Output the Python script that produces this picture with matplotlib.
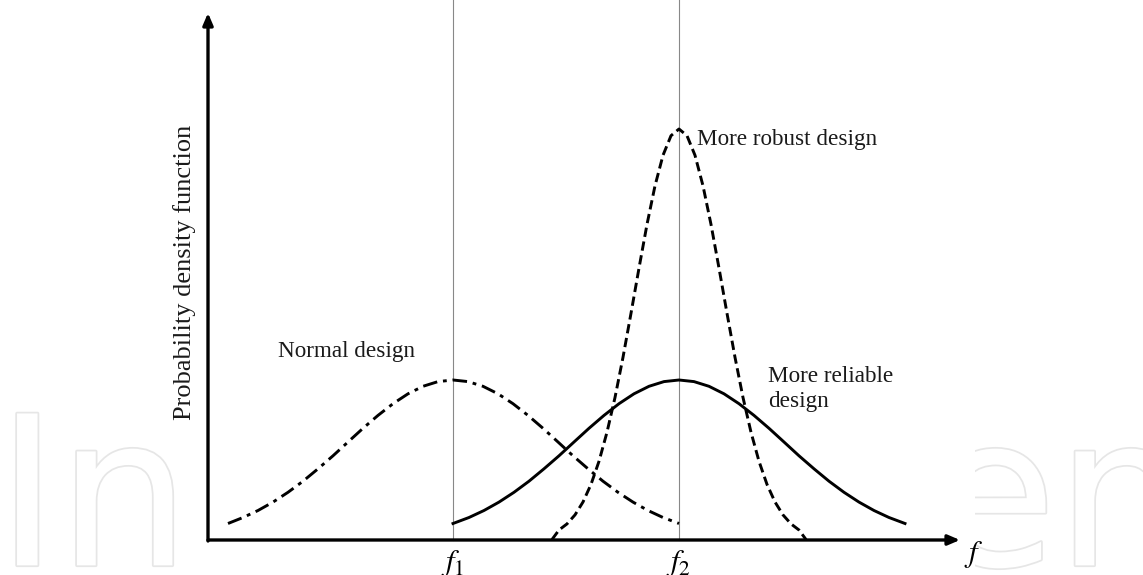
import matplotlib.pyplot as plt
import matplotlib.patheffects as pe

plt.rcParams['font.family'] = ['Liberation Serif', 'DejaVu Serif']
plt.rcParams['mathtext.fontset'] = 'stix'

# positions of the two reference frequencies on the f axis
f1 = 245
f2 = 471

# curves (x along f, y = pdf height)
normal_x = [20, 35, 50, 65, 80, 95, 110, 125, 140, 155, 170, 185, 200, 215, 230, 245,
            260, 275, 290, 305, 320, 335, 350, 365, 380, 395, 410, 425, 440, 455, 471]
normal_y = [16.5, 22.5, 29.5, 37.9, 47.7, 58.8, 71.2, 84.2, 98.0, 111.7, 124.6, 136.3, 146.2, 153.7, 158.4, 160,
            158.4, 153.7, 146.2, 136.3, 124.6, 111.7, 98.0, 84.2, 71.2, 58.8, 47.7, 37.9, 29.5, 22.5, 16.5]

reliable_x = [245, 261, 276, 291, 306, 321, 336, 351, 366, 381, 396, 411, 426, 441, 456, 471,
              486, 501, 516, 531, 546, 561, 576, 591, 606, 621, 636, 651, 666, 681, 697]
reliable_y = [16.5, 22.5, 29.5, 37.9, 47.7, 58.8, 71.2, 84.2, 98.0, 111.7, 124.6, 136.3, 146.2, 153.7, 158.4, 160,
              158.4, 153.7, 146.2, 136.3, 124.6, 111.7, 98.0, 84.2, 71.2, 58.8, 47.7, 37.9, 29.5, 22.5, 16.5]

robust_x = [344, 351, 359, 367, 375, 383, 391, 399, 407, 415, 423, 431, 439, 447, 455, 463, 471,
            479, 487, 495, 503, 511, 519, 527, 535, 543, 551, 559, 567, 575, 583, 591, 598]
robust_y = [0.5, 10.0, 16.1, 25.1, 38.0, 55.6, 78.7, 107.8, 142.5, 182.7, 226.7, 271.9, 315.6, 354.2, 384.7, 404.3, 411,
            404.3, 384.7, 354.2, 315.6, 271.9, 226.7, 182.7, 142.5, 107.8, 78.7, 55.6, 38.0, 25.1, 16.1, 10.0, 0.5]

fig = plt.figure(figsize=(11.43, 5.75), dpi=100)

# faint watermark in the margins
wm = dict(fontsize=150, family='DejaVu Sans', color='white', va='bottom', zorder=0,
          path_effects=[pe.withStroke(linewidth=2.5, foreground='#e6e6e6')])
fig.text(-0.003, -0.058, 'In', ha='left', **wm)
fig.text(1.04, -0.058, 'en', ha='right', **wm)

# white block hiding the watermark behind the chart
fig.patches.append(plt.Rectangle((175 / 1143, 0), 800 / 1143, 1, transform=fig.transFigure,
                                 facecolor='white', edgecolor='none', zorder=0.5))

ax = fig.add_axes([208 / 1143, 35 / 575, 752 / 1143, 525 / 575])
ax.set_zorder(2)
ax.set_xlim(0, 752)
ax.set_ylim(0, 525)
ax.patch.set_alpha(0)
for s in ax.spines.values():
    s.set_visible(False)
ax.set_xticks([])
ax.set_yticks([])

# axes with arrows
ax.annotate('', xy=(752, 0), xytext=(0, 0),
            arrowprops=dict(arrowstyle='-|>,head_length=0.7,head_width=0.3', lw=2.4, color='black',
                            shrinkA=0, shrinkB=0), annotation_clip=False)
ax.annotate('', xy=(0, 527), xytext=(0, -1),
            arrowprops=dict(arrowstyle='-|>,head_length=0.7,head_width=0.3', lw=2.4, color='black',
                            shrinkA=0, shrinkB=0), annotation_clip=False)

# reference lines
ax.plot([f1, f1], [0, 540], color='#888888', lw=0.8, clip_on=False)
ax.plot([f2, f2], [0, 540], color='#888888', lw=0.8, clip_on=False)

ax.plot(normal_x, normal_y, color='black', lw=2.1, linestyle=(0, (5, 2, 1.3, 2)))
ax.plot(reliable_x, reliable_y, color='black', lw=2.1, linestyle='-')
ax.plot(robust_x, robust_y, color='black', lw=2.1, linestyle=(0, (3.2, 1.6)))

txt = '#1a1a1a'
ax.text(70, 188, 'Normal design', fontsize=16.7, ha='left', va='center', color=txt)
ax.text(489, 400, 'More robust design', fontsize=16.7, ha='left', va='center', color=txt)
ax.text(560, 151, 'More reliable\ndesign', fontsize=16.7, ha='left', va='center',
        linespacing=1.25, color=txt)

ax.text(f1, -8, '$f_1$', fontsize=22, ha='center', va='top', clip_on=False)
ax.text(f2, -8, '$f_2$', fontsize=22, ha='center', va='top', clip_on=False)
ax.text(766, -14, '$f$', fontsize=22, ha='center', va='center', clip_on=False)

fig.text(185 / 1143, 1 - 272 / 575, 'Probability density function', fontsize=19,
         rotation=90, ha='center', va='center', zorder=3, color=txt)

fig.savefig('out.png', dpi=100)
